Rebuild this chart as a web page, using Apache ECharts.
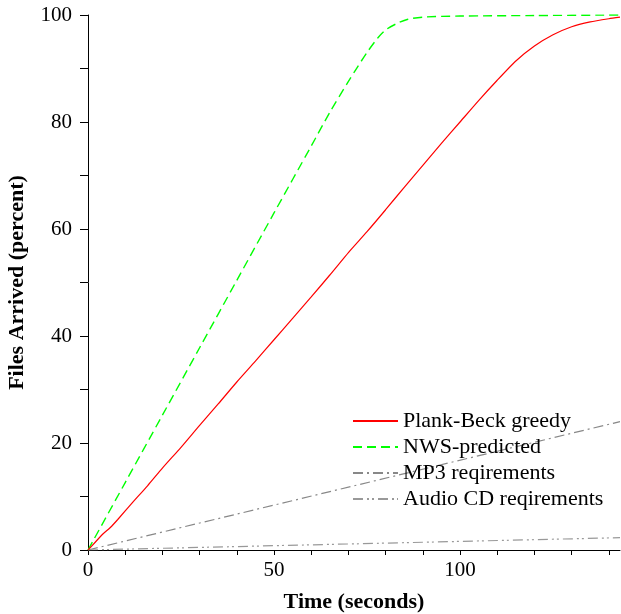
<!DOCTYPE html>
<html>
<head>
<meta charset="utf-8">
<script src="https://cdn.jsdelivr.net/npm/echarts@6/dist/echarts.min.js"></script>
<style>html,body{margin:0;padding:0;background:#fff}#c{width:621px;height:614px}</style>
</head>
<body>
<div id="c"></div>
<script>
const seriesNames = ['Plank-Beck greedy', 'NWS-predicted', 'MP3 reqirements', 'Audio CD reqirements'];
const greedyT = [0, 2, 4, 6, 8, 12, 16, 20, 25, 30, 35, 40, 45, 50, 55, 60, 65, 70, 75, 80, 85, 90, 95, 100, 105, 110, 115, 120, 125, 130, 135, 140, 143];
const greedyV = [0, 1.5, 3, 4.2, 5.7, 8.9, 12, 15.3, 19.2, 23.3, 27.3, 31.4, 35.3, 39.3, 43.3, 47.3, 51.4, 55.6, 59.5, 63.6, 67.8, 71.9, 76, 80, 84, 87.8, 91.4, 94.2, 96.3, 97.8, 98.7, 99.3, 99.6];
const nwsT = [0, 10, 20, 30, 40, 50, 60, 65, 70, 72, 75, 78, 80, 83, 86, 90, 100, 120, 143];
const nwsV = [0, 12.6, 25.2, 37.8, 50.4, 63, 75.5, 81.8, 87.6, 89.8, 93, 95.8, 97.2, 98.4, 99.2, 99.6, 99.8, 99.9, 100];
const mp3T = [0, 143];
const mp3V = [0, 24];
const cdT = [0, 143];
const cdV = [0, 2.3];
const xTicks = [0, 10, 20, 30, 40, 50, 60, 70, 80, 90, 100, 110, 120, 130, 140];
const xLabels = [0, 50, 100];
const yTicks = [0, 10, 20, 30, 40, 50, 60, 70, 80, 90, 100];
const yLabels = [0, 20, 40, 60, 80, 100];

const pairs = (t, v) => t.map((x, i) => [x, v[i]]);
const font = 'Liberation Serif';
const chart = echarts.init(document.getElementById('c'));
chart.setOption({
  animation: false,
  textStyle: { fontFamily: font },
  grid: { left: 88, right: 1, top: 15, bottom: 64, containLabel: false, outerBoundsMode: 'none' },
  legend: {
    orient: 'vertical', left: 347, top: 405, itemWidth: 45, itemHeight: 14, itemGap: 4,
    itemStyle: { opacity: 0 },
    textStyle: { fontFamily: font, fontSize: 22, color: '#000', lineHeight: 22 },
    data: seriesNames
  },
  xAxis: {
    type: 'value', min: 0, max: 143,
    name: 'Time (seconds)', nameLocation: 'middle', nameGap: 41,
    nameTextStyle: { fontFamily: font, fontSize: 22, fontWeight: 'bold', color: '#000' },
    axisLine: { onZero: false, lineStyle: { color: '#000', width: 1 } },
    axisTick: { customValues: xTicks, length: 5, inside: false, lineStyle: { color: '#000' } },
    axisLabel: { customValues: xLabels, fontFamily: font, fontSize: 21, color: '#000', margin: 10 },
    splitLine: { show: false }
  },
  yAxis: {
    type: 'value', min: 0, max: 100,
    name: 'Files Arrived (percent)', nameLocation: 'middle', nameGap: 60, nameRotate: 90,
    nameTextStyle: { fontFamily: font, fontSize: 22, fontWeight: 'bold', color: '#000' },
    axisLine: { show: true, onZero: false, lineStyle: { color: '#000', width: 1 } },
    axisTick: { show: true, customValues: yTicks, length: 8, lineStyle: { color: '#000' } },
    axisLabel: { customValues: yLabels, fontFamily: font, fontSize: 21, color: '#000', margin: 16 },
    splitLine: { show: false }
  },
  series: [
    { name: seriesNames[0], type: 'line', data: pairs(greedyT, greedyV), symbol: 'none', smooth: 0.2,
      lineStyle: { color: '#ff0000', width: 1.2 }, itemStyle: { color: '#ff0000' }, z: 4 },
    { name: seriesNames[1], type: 'line', data: pairs(nwsT, nwsV), symbol: 'none', smooth: 0.3,
      lineStyle: { color: '#00ff00', width: 1.4, type: [9, 5] }, itemStyle: { color: '#00ff00' }, z: 3 },
    { name: seriesNames[2], type: 'line', data: pairs(mp3T, mp3V), symbol: 'none',
      lineStyle: { color: '#888888', width: 1.2, type: [10, 4, 2, 4] }, itemStyle: { color: '#888888' }, z: 2 },
    { name: seriesNames[3], type: 'line', data: pairs(cdT, cdV), symbol: 'none',
      lineStyle: { color: '#999999', width: 1.2, type: [10, 4, 2, 3, 2, 4] }, itemStyle: { color: '#999999' }, z: 2 }
  ]
});
</script>
</body>
</html>
